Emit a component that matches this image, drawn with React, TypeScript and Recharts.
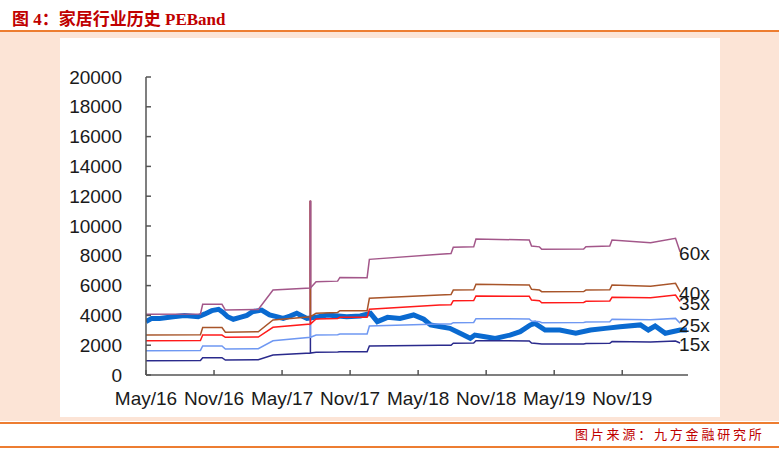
import React from 'react'
import { LineChart, Line, XAxis, YAxis } from 'recharts'

// month index from May 2016 (0) onward
const xTicks = [0, 6, 12, 18, 24, 30, 36, 42]
const xTickLabels = ['May/16', 'Nov/16', 'May/17', 'Nov/17', 'May/18', 'Nov/18', 'May/19', 'Nov/19']
const yTicks = [0, 2000, 4000, 6000, 8000, 10000, 12000, 14000, 16000, 18000, 20000]

const bandX = [0, 4.8, 5.0, 6.7, 7.0, 9.9, 11.2, 14.5, 14.5, 14.5, 15.0, 16.9, 17.1, 19.5, 19.7, 25.9, 26.9, 27.1, 28.9, 29.1, 33.8, 34.0, 34.7, 34.9, 38.6, 38.8, 40.9, 41.1, 44.5, 46.7, 47.1]
const pe60 = [4070, 4100, 4740, 4740, 4360, 4400, 5700, 5840, 11700, 5840, 6260, 6300, 6550, 6530, 7760, 8100, 8150, 8570, 8600, 9130, 9060, 8660, 8600, 8440, 8450, 8610, 8650, 9060, 8880, 9170, 8270]
const pe40 = [2680, 2700, 3180, 3180, 2870, 2900, 3690, 3910, 11700, 3910, 4140, 4200, 4320, 4320, 5150, 5370, 5400, 5700, 5720, 6090, 6040, 5750, 5700, 5590, 5600, 5700, 5720, 6040, 5950, 6150, 5590]
const pe35 = [2300, 2320, 2680, 2680, 2530, 2550, 3200, 3420, 11700, 3420, 3760, 3800, 3870, 3870, 4410, 4700, 4720, 4990, 5000, 5300, 5280, 5030, 4980, 4850, 4870, 4950, 4970, 5210, 5180, 5370, 4920]
const pe25 = [1630, 1650, 1950, 1950, 1740, 1760, 2300, 2530, 11700, 2530, 2680, 2700, 2750, 2750, 3290, 3420, 3430, 3510, 3530, 3780, 3760, 3620, 3580, 3510, 3520, 3560, 3580, 3740, 3700, 3800, 3470]
const pe15 = [960, 980, 1160, 1160, 1000, 1020, 1340, 1470, 11700, 1470, 1520, 1550, 1560, 1560, 1950, 2000, 2000, 2130, 2150, 2300, 2290, 2150, 2100, 2080, 2080, 2120, 2130, 2240, 2220, 2280, 2150]

const priceX = [0, 0.5, 1.2, 2.4, 3.4, 4.6, 5.2, 5.8, 6.4, 6.8, 7.2, 7.7, 8.3, 8.9, 9.4, 10.2, 10.9, 11.6, 12.1, 12.7, 13.3, 13.8, 14.2, 14.9, 16.0, 16.7, 17.7, 18.9, 19.8, 20.4, 21.3, 22.4, 23.6, 24.5, 25.1, 26.0, 26.8, 27.7, 28.6, 29.0, 29.9, 30.8, 32.1, 33.0, 33.9, 34.3, 35.2, 36.5, 37.9, 39.2, 40.5, 41.8, 43.6, 44.3, 44.9, 45.8, 47.1, 47.7]
const price = [3580, 3800, 3800, 3910, 4000, 3910, 4100, 4320, 4410, 4200, 3910, 3740, 3870, 4000, 4250, 4360, 4030, 3900, 3800, 3950, 4140, 3950, 3800, 3870, 4030, 3980, 3910, 3960, 4140, 3580, 3870, 3800, 4030, 3740, 3360, 3240, 3130, 2800, 2460, 2680, 2570, 2460, 2680, 2910, 3360, 3470, 3020, 3020, 2800, 3020, 3130, 3240, 3360, 3020, 3290, 2800, 3020, 3020]

const bandData = bandX.map((m, i) => ({ m, pe15: pe15[i], pe25: pe25[i], pe35: pe35[i], pe40: pe40[i], pe60: pe60[i] }))
const priceData = priceX.map((m, i) => ({ m, price: price[i] }))

const bands = [
  { key: 'pe15', name: '15x', color: '#2a2a8c' },
  { key: 'pe25', name: '25x', color: '#6f98f2' },
  { key: 'pe35', name: '35x', color: '#ff1a1a' },
  { key: 'pe40', name: '40x', color: '#a8552a' },
  { key: 'pe60', name: '60x', color: '#a3578a' },
]

const axisColor = '#555'
const tickFont = { fontFamily: 'Arial, "Liberation Sans", sans-serif', fontSize: 19, fill: '#1a1a1a' }

const YTick = (props: any) => {
  const { x, y, payload } = props
  return (
    <g>
      <line x1={x} x2={x + 5} y1={y} y2={y} stroke={axisColor} strokeWidth={1.5} />
      <text x={x - 24} y={y} textAnchor="end" dominantBaseline="central" {...tickFont}>{payload.value}</text>
    </g>
  )
}

const XTick = (props: any) => {
  const { x, y, index } = props
  return (
    <g>
      <line x1={x} x2={x} y1={y} y2={y - 5} stroke={axisColor} strokeWidth={1.5} />
      <text x={x} y={y + 23} textAnchor="middle" dominantBaseline="central" {...tickFont}>{xTickLabels[index]}</text>
    </g>
  )
}

const endLabel = (name: string) => (props: any) => {
  const { x, y, index } = props
  if (index !== bandData.length - 1) return <g />
  return <text x={x - 1} y={y + 2} dominantBaseline="central" {...tickFont}>{name}</text>
}

export default function App() {
  return (
    <div style={{ position: 'fixed', left: 0, top: 0, width: 779, height: 451, background: '#fff', overflow: 'hidden' }}>
      <div style={{ position: 'absolute', left: 12, top: 5, color: '#c00000', fontWeight: 'bold', fontSize: 17, fontFamily: '"Liberation Serif", "Noto Sans CJK SC", serif', whiteSpace: 'nowrap' }}>
        图 4：家居行业历史 PEBand
      </div>
      <div style={{ position: 'absolute', left: 0, top: 30, width: 779, height: 2, background: '#ed7d31' }} />
      <div style={{ position: 'absolute', left: 0, top: 32, width: 779, height: 389, background: '#fce4d6' }} />
      <div style={{ position: 'absolute', left: 0, top: 422, width: 779, height: 2, background: '#ed7d31' }} />
      <div style={{ position: 'absolute', left: 0, top: 446, width: 779, height: 2, background: '#ed7d31' }} />
      <div style={{ position: 'absolute', left: 575, top: 425, color: '#c00000', fontSize: 13, letterSpacing: 2.8, fontFamily: '"Noto Sans CJK SC", sans-serif', whiteSpace: 'nowrap', lineHeight: '18px' }}>
        图片来源：九方金融研究所
      </div>
      <div style={{ position: 'absolute', left: 60, top: 38, width: 660, height: 379, background: '#fff' }}>
        <LineChart width={660} height={379} margin={{ top: 39, right: 32, left: 0, bottom: 0 }}>
          <XAxis
            dataKey="m"
            type="number"
            domain={[0, 47.8]}
            ticks={xTicks}
            allowDataOverflow
            height={42}
            tickSize={0}
            tickMargin={0}
            tickLine={false}
            axisLine={{ stroke: axisColor, strokeWidth: 1.5 }}
            tick={<XTick />}
            interval={0}
          />
          <YAxis
            type="number"
            domain={[0, 20000]}
            ticks={yTicks}
            width={86}
            tickSize={0}
            tickMargin={0}
            tickLine={false}
            axisLine={{ stroke: axisColor, strokeWidth: 1.5 }}
            tick={<YTick />}
            interval={0}
          />
          <Line data={priceData} dataKey="price" type="linear" stroke="#0a6ad0" strokeWidth={5} dot={false} isAnimationActive={false} />
          {bands.map(b => (
            <Line key={b.key} data={bandData} dataKey={b.key} type="linear" stroke={b.color} strokeWidth={1.5} dot={false} isAnimationActive={false} label={endLabel(b.name)} />
          ))}
        </LineChart>
      </div>
    </div>
  )
}
